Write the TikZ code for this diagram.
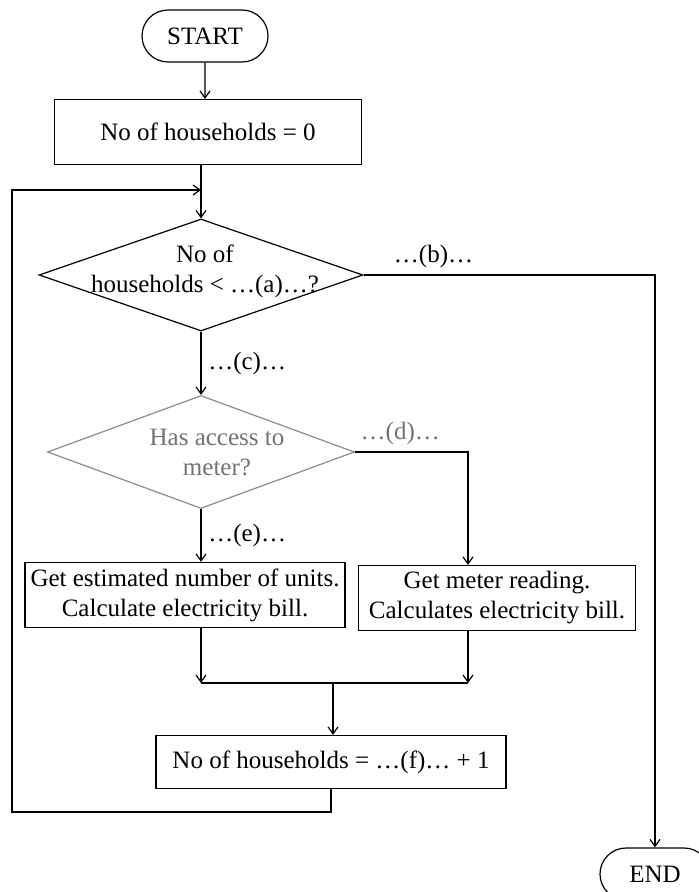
\documentclass[tikz,border=0pt]{standalone}
\usepackage{fontspec}
\setmainfont{Liberation Serif}
\usetikzlibrary{shapes.geometric,shapes.misc,arrows.meta}

\tikzset{
  terminal/.style={draw, rounded rectangle, minimum width=63pt, minimum height=26pt, inner sep=0pt},
  process/.style={draw, rectangle, align=center, minimum height=32.5pt, inner sep=2pt},
  decision/.style={draw, diamond, inner sep=0pt},
  faded/.style={black!55},
  arr/.style={-{Straight Barb[length=3.5pt,width=5pt]}}
}

\begin{document}
\begin{tikzpicture}[x=0.5pt, y=-0.5pt, line width=0.6pt, font=\fontsize{12.5}{15}\selectfont]
\fill[white] (0,0) rectangle (699,892);
\useasboundingbox (0,0) rectangle (699,892);

% boxes
\node[terminal] (start) at (205,36) {START};
\node[process, minimum width=153.5pt] (init) at (208,132) {No of households = 0};
\node[decision, minimum width=162pt, minimum height=56pt,
  label={[align=center, yshift=2pt, xshift=2pt]center:No of\\households < …(a)…?}] (q1) at (201,275) {};
\node[decision, draw=black!45, minimum width=153.5pt, minimum height=56.5pt,
  label={[align=center, text=black!55, xshift=8pt]center:Has access to\\meter?}] (q2) at (201,452) {};
\node[process, minimum width=160pt] (est) at (185,595) {Get estimated number of units.\\Calculate electricity bill.};
\node[process, minimum width=138.5pt] (meter) at (497,598) {Get meter reading.\\Calculates electricity bill.};
\node[process, minimum width=175pt, minimum height=26.5pt] (count) at (331,762) {No of households = …(f)… + 1};
\node[terminal, minimum width=55pt] (end) at (655,874) {END};

\coordinate (loopin) at (201,190);
\coordinate (loopcorner) at (12,812);
\coordinate (dturn) at (468,455);
\coordinate (join) at (333,683);

% connectors
\draw[arr] (start) -- (start |- init.north);
\draw[arr] (init.south -| q1.north) -- (q1.north);
\draw[arr] (q1.east) -| node[pos=0.12, above] (lblb) {…(b)…} (end.north);
\draw[arr] (q1.south) -- node[right] (lblc) {…(c)…} (q2.north);
\draw[arr] (q2.east) -| node[pos=0.2, above, faded] (lbld) {…(d)…} (dturn |- meter.north);
\draw[arr] (q2.south) -- node[right] (lble) {…(e)…} (q2.south |- est.north);
\draw[arr] (q2.south |- est.south) -- (q2.south |- join);
\draw[arr] (dturn |- meter.south) -- (dturn |- join);
\draw (q2.south |- join) -- (dturn |- join);
\draw[arr] (join) -- (join |- count.north);

% loop back
\draw[arr] (count.south) |- (loopcorner) |- (loopin);
\end{tikzpicture}
\end{document}
